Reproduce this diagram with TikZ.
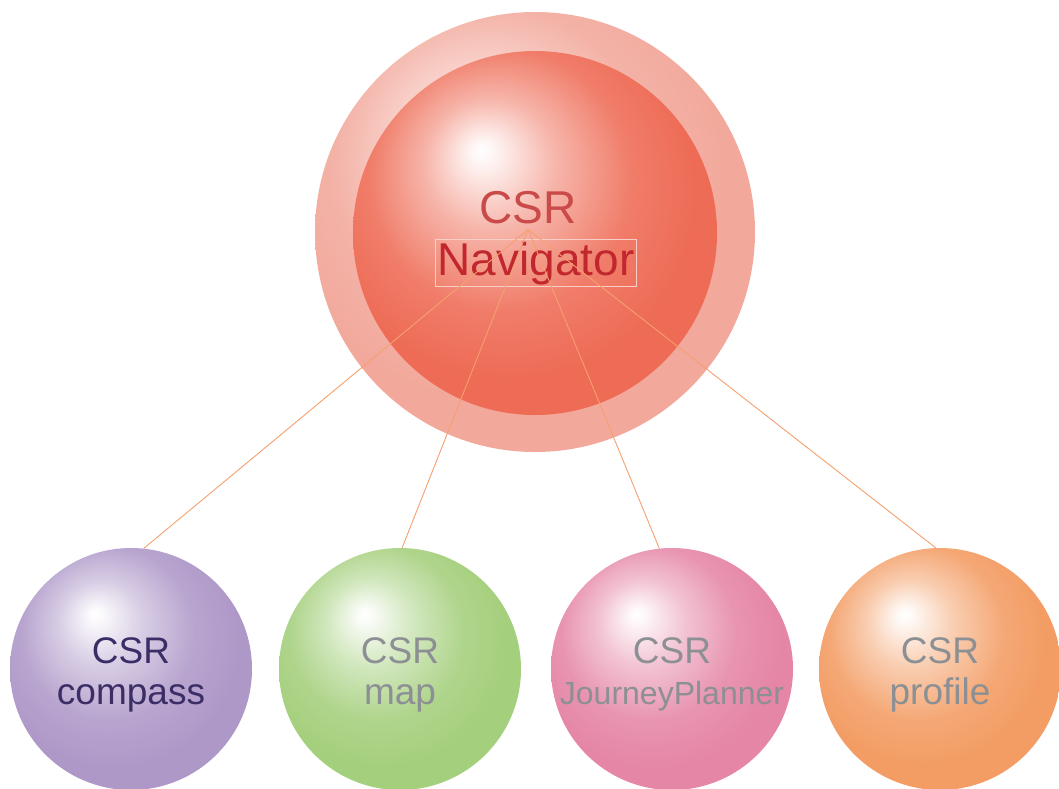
\documentclass[tikz,border=0pt]{standalone}
\usepackage{fontspec}
\setmainfont{Liberation Sans}
\usetikzlibrary{positioning}
\definecolor{navc}{HTML}{EE6B55}
\definecolor{ringc}{HTML}{F2A89B}
\definecolor{purplec}{HTML}{AE98C8}
\definecolor{greenc}{HTML}{A4CF7C}
\definecolor{pinkc}{HTML}{E586A6}
\definecolor{orangec}{HTML}{F39C63}
\definecolor{linkc}{HTML}{F4A06F}
\definecolor{navtxt}{HTML}{C1272D}
\definecolor{csrtxt}{HTML}{C94A48}
\definecolor{darktxt}{HTML}{3B2D66}
\definecolor{greytxt}{HTML}{8C8F93}
\colorlet{ballc}{navc}
\pgfdeclareradialshading[ballc]{glossy}{\pgfpoint{-7.5bp}{11.5bp}}{%
  color(0bp)=(white); color(1.5bp)=(ballc!6!white); color(9bp)=(ballc!50!white);
  color(18bp)=(ballc!88!white); color(26bp)=(ballc); color(50bp)=(ballc)}

\begin{document}
\begin{tikzpicture}[x=1pt,y=-1pt,
  sphere/.code={\colorlet{ballc}{#1}\tikzset{shade,shading=glossy}},
  ball/.style={circle,minimum size=242pt,inner sep=0pt,align=center,
               text height=78pt,font=\fontsize{37}{41}\selectfont},
  big/.style={font=\fontsize{46}{50}\selectfont},
  navbox/.style={draw=ringc!55!white,line width=0.5pt,inner sep=2pt},
  link/.style={draw=linkc,line width=0.9pt}
]
\useasboundingbox (0,0) rectangle (1059,788);

\node[circle,minimum size=440pt,inner sep=0pt,sphere=ringc] (ring) at (535,232) {};
\node[circle,minimum size=364pt,inner sep=0pt,sphere=navc] (core) at (535,233) {};
\node[big,anchor=base,text=csrtxt,inner sep=6pt] (csr) at (528,223) {CSR};
\node[big,anchor=base,text=navtxt,navbox] (nav) at (536,275) {Navigator};

\node[ball,sphere=purplec,text=darktxt] (compass) at (131,669) {CSR\\compass};
\node[ball,sphere=greenc,text=greytxt] (map) at (400,669) {CSR\\map};
\node[ball,sphere=pinkc,text=greytxt] (planner) at (672,669)
  {CSR\\{\fontsize{32}{41}\selectfont JourneyPlanner}};
\node[ball,sphere=orangec,text=greytxt] (profile) at (940,669) {CSR\\profile};

\draw[link] (csr.south) -- (compass.84);
\draw[link] (csr.south) -- (map.89);
\draw[link] (csr.south) -- (planner.96);
\draw[link] (csr.south) -- (profile.92);
\end{tikzpicture}
\end{document}
